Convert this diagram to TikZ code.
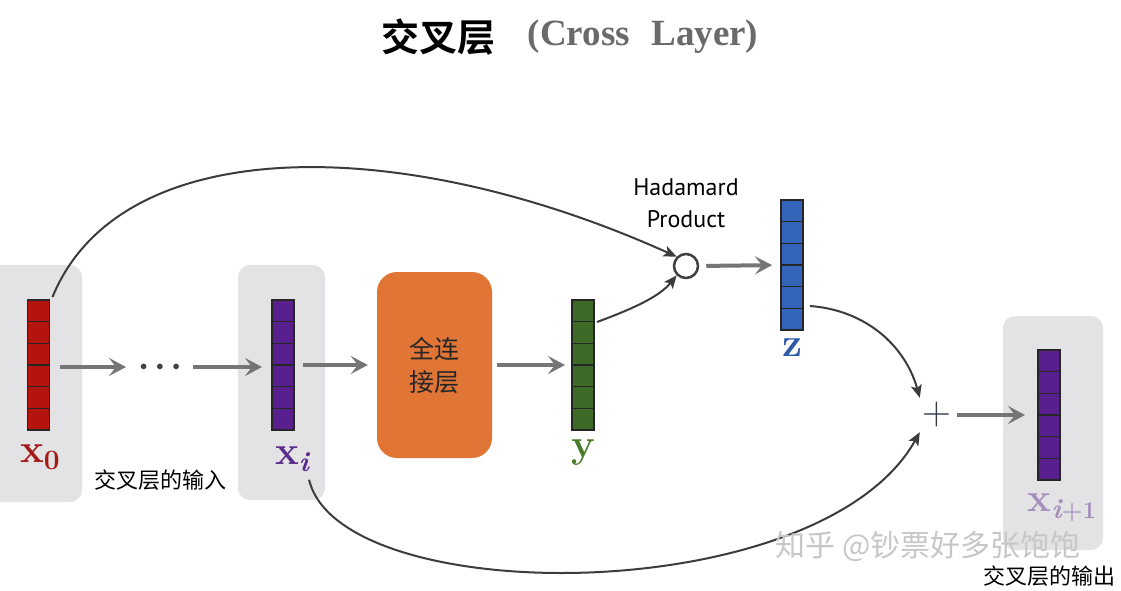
\documentclass[tikz,border=0pt]{standalone}
\usepackage{fontspec}
\usetikzlibrary{arrows.meta,calc}
\newfontfamily\cjk{Noto Sans CJK SC}
\newfontfamily\cjkb{Noto Sans CJK SC}[UprightFont=* Bold]
\newfontfamily\hadafont{PT Sans}
\newfontfamily\titleserif{Liberation Serif}
\definecolor{vred}{HTML}{B3140E}
\definecolor{vpurple}{HTML}{5A1F8F}
\definecolor{vgreen}{HTML}{3D6B27}
\definecolor{vblue}{HTML}{3565B8}
\definecolor{lred}{HTML}{A31A16}
\definecolor{lpurple}{HTML}{5B2A8E}
\definecolor{lgreen}{HTML}{4A7A2A}
\definecolor{lblue}{HTML}{2E5AA8}
\definecolor{fcorange}{HTML}{E07535}
\definecolor{panelgray}{HTML}{E3E3E5}
\definecolor{arrowgray}{HTML}{757575}
\definecolor{curvegray}{HTML}{3C3C3C}
\definecolor{titlegray}{HTML}{6A6A6A}
\definecolor{plusnavy}{HTML}{333A4A}
\newcommand\subup[1]{\raisebox{-7pt}{\fontsize{28}{28}\selectfont\bfseries #1}}
\newcommand\subit[1]{\raisebox{-7pt}{\fontsize{28}{28}\selectfont\itshape #1}}
\tikzset{
  vecnode/.style={draw=black!85, line width=1.3pt, minimum width=22pt, minimum height=130pt, inner sep=0pt, outer sep=0pt},
  cellline/.style={draw=black!85, line width=1.1pt},
  panel/.style={fill=panelgray, rounded corners=12pt, inner sep=0pt, outer sep=0pt},
  bigarrow/.style={draw=arrowgray, line width=4pt, -{Stealth[length=17pt,width=18pt,inset=7pt]}},
  curvearrow/.style={draw=curvegray, line width=2pt, -{Stealth[length=13pt,width=11pt,inset=3pt]}},
  veclabel/.style={inner sep=0pt, font=\bfseries\fontsize{40}{42}\selectfont},
  cjklabel/.style={inner sep=0pt, font=\cjk\fontsize{22}{24}\selectfont},
}
\newcommand\vecbar[4]{%
  \node[vecnode, fill=#4] (#1) at (#2,#3) {};
  \foreach \k in {1,...,5}
    \draw[cellline] ($(#1.north west)!\k/6!(#1.south west)$) -- ($(#1.north east)!\k/6!(#1.south east)$);
}
\begin{document}
\begin{tikzpicture}[x=1pt,y=-1pt]
\useasboundingbox (0,0) rectangle (1121,590);
\fill[white] (0,0) rectangle (1121,590);
% title
\node[inner sep=0pt, font=\cjkb\fontsize{38}{40}\selectfont] (titlecn) at (438,37) {交叉层};
\node[inner sep=0pt, font=\titleserif\bfseries\fontsize{37}{40}\selectfont, text=titlegray] (titleen) at (643,37) {(Cross\,\, Layer)};
% panels
\node[panel, minimum width=100pt, minimum height=237pt] (panelA) at (32,383.5) {};
\node[panel, minimum width=87pt, minimum height=235pt] (panelB) at (281.5,382.5) {};
\node[panel, minimum width=100pt, minimum height=234pt] (panelC) at (1053,433) {};
% vectors
\vecbar{x0}{38.5}{365}{vred}
\vecbar{xi}{283}{365}{vpurple}
\vecbar{yv}{583}{365}{vgreen}
\vecbar{zv}{792}{265}{vblue}
\vecbar{xn}{1049}{415}{vpurple}
% labels
\node[veclabel, text=lred] (x0lab) at (40,457) {x\subup{0}};
\node[veclabel, text=lpurple] (xilab) at (292,459) {x\subit{i}};
\node[veclabel, text=lgreen] (ylab) at (583,453) {y};
\node[veclabel, text=lblue] (zlab) at (792,348) {z};
\node[veclabel, text=lpurple, opacity=0.45] (xnlab) at (1062,508) {x\subit{i}\raisebox{-7pt}{\fontsize{24}{24}\selectfont +1}};
\node[cjklabel] (inlab) at (160,480) {交叉层的输入};
\node[cjklabel] (outlab) at (1049,576) {交叉层的输出};
% dots
\node[inner sep=0pt, text=black!75, font=\fontsize{14}{14}\selectfont] (dots) at (160,367) {$\bullet$\hspace{9pt}$\bullet$\hspace{9pt}$\bullet$};
% fully connected box
\node[fill=fcorange, rounded corners=20pt, minimum width=115pt, minimum height=186pt, inner sep=0pt, align=center,
      font=\cjk\fontsize{25}{33}\selectfont, text=black!85] (fc) at (434.5,365) {全连\\接层};
% hadamard
\node[draw=black!75, line width=2.5pt, circle, minimum size=24pt, inner sep=0pt] (circ) at (686,266) {};
\node[inner sep=0pt, align=center, font=\hadafont\fontsize{24}{32}\selectfont] (hada) at (686,203) {Hadamard\\Product};
% plus
\node[inner sep=0pt, minimum size=34pt, text=plusnavy, font=\fontsize{40}{40}\selectfont] (plus) at (937,415) {+};
% straight arrows
\draw[bigarrow, shorten <=10pt, shorten >=14pt] (x0.east |- dots.west) -- (dots.west);
\draw[bigarrow, shorten <=13pt, shorten >=10pt] (dots.east) -- (dots.east -| xi.west);
\draw[bigarrow, shorten <=9pt, shorten >=9pt] (xi.east) -- (fc.west);
\draw[bigarrow, shorten <=5pt, shorten >=7pt] (fc.east) -- (yv.west);
\draw[bigarrow, shorten <=7pt, shorten >=9pt] (circ.east) -- (zv.west);
\draw[bigarrow, shorten <=3pt, shorten >=13pt] (plus.east) -- (xn.west);
% curves
\draw[curvearrow] ([xshift=3pt,yshift=3pt]x0.north east) .. controls (120,132) and (400,132) .. (circ.north west);
\draw[curvearrow] ([xshift=3pt,yshift=-22pt]yv.north east) .. controls (635,308) and (660,296) .. (circ.south west);
\draw[curvearrow] ([xshift=7pt,yshift=-41pt]zv.east) .. controls (865,310) and (905,345) .. (plus.north west);
\draw[curvearrow] ([xshift=0pt,yshift=-8pt]xilab.south east) .. controls (340,610) and (820,610) .. (plus.south west);
% watermark
\node[inner sep=0pt, text=black!22, font=\cjk\fontsize{30}{30}\selectfont] (wm) at (928,546) {知乎 @钞票好多张饱饱};
\end{tikzpicture}
\end{document}
